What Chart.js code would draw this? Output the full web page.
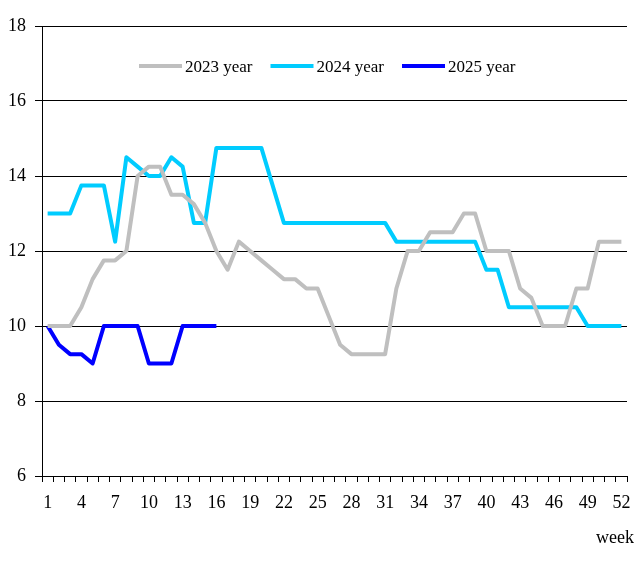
<!DOCTYPE html>
<html><head><meta charset="utf-8">
<script src="https://cdn.jsdelivr.net/npm/chart.js@4"></script>
<style>html,body{margin:0;padding:0;background:#fff;} #wrap{width:644px;height:562px;position:relative;}</style>
</head><body><div id="wrap"><canvas id="c"></canvas></div>
<script>
const weeks = ['1','2','3','4','5','6','7','8','9','10','11','12','13','14','15','16','17','18','19','20','21','22','23','24','25','26','27','28','29','30','31','32','33','34','35','36','37','38','39','40','41','42','43','44','45','46','47','48','49','50','51','52'];
const seriesNames = ['2023 year','2024 year','2025 year'];
const values2023 = [10,10,10,10.5,11.25,11.75,11.75,12,14,14.25,14.25,13.5,13.5,13.25,12.75,12,11.5,12.25,12,11.75,11.5,11.25,11.25,11,11,10.25,9.5,9.25,9.25,9.25,9.25,11,12,12,12.5,12.5,12.5,13,13,12,12,12,11,10.75,10,10,10,11,11,12.25,12.25,12.25];
const values2024 = [13,13,13,13.75,13.75,13.75,12.25,14.5,14.25,14,14,14.5,14.25,12.75,12.75,14.75,14.75,14.75,14.75,14.75,13.75,12.75,12.75,12.75,12.75,12.75,12.75,12.75,12.75,12.75,12.75,12.25,12.25,12.25,12.25,12.25,12.25,12.25,12.25,11.5,11.5,10.5,10.5,10.5,10.5,10.5,10.5,10.5,10,10,10,10];
const values2025 = [10,9.5,9.25,9.25,9,10,10,10,10,9,9,9,10,10,10,10];
const yTicks = [6,8,10,12,14,16,18];
const xAxisTitle = 'week';

const FONT = 'Liberation Serif';

const legendPlugin = {
  id: 'customLegend',
  afterDraw(chart) {
    const ctx = chart.ctx;
    ctx.save();
    ctx.font = '17px "' + FONT + '"';
    ctx.textBaseline = 'alphabetic';
    ctx.textAlign = 'left';
    let x = 139;
    const y = 66;
    chart.data.datasets.forEach(ds => {
      ctx.strokeStyle = ds.borderColor;
      ctx.lineWidth = 4;
      ctx.lineCap = 'butt';
      ctx.beginPath();
      ctx.moveTo(x, y);
      ctx.lineTo(x + 43, y);
      ctx.stroke();
      ctx.fillStyle = '#000';
      ctx.fillText(ds.label, x + 46, y + 6);
      x += 43 + 3 + ctx.measureText(ds.label).width + 18;
    });
    // x axis title
    ctx.font = '18px "' + FONT + '"';
    ctx.textAlign = 'right';
    ctx.fillText(xAxisTitle, 634, 543);
    ctx.restore();
  }
};

new Chart(document.getElementById('c'), {
  type: 'line',
  data: {
    labels: weeks,
    datasets: [
      { label: seriesNames[0], data: values2023, borderColor: '#bfbfbf', borderWidth: 4 },
      { label: seriesNames[1], data: values2024, borderColor: '#00ccff', borderWidth: 4 },
      { label: seriesNames[2], data: values2025, borderColor: '#0000ff', borderWidth: 4 }
    ]
  },
  options: {
    responsive: true,
    maintainAspectRatio: false,
    animation: false,
    devicePixelRatio: 1,
    layout: { padding: { top: 26, right: 17, left: 0, bottom: 0 } },
    elements: {
      point: { radius: 0, hoverRadius: 0 },
      line: { tension: 0, borderJoinStyle: 'round', borderCapStyle: 'butt' }
    },
    plugins: { legend: { display: false }, tooltip: { enabled: false } },
    scales: {
      x: {
        type: 'category',
        offset: true,
        grid: { display: true, offset: true, drawOnChartArea: false, drawTicks: true, tickLength: 6, color: '#000', lineWidth: 1 },
        border: { display: true, color: '#000', width: 1 },
        ticks: {
          autoSkip: false, maxRotation: 0, minRotation: 0, padding: 10,
          color: '#000', font: { family: FONT, size: 18 },
          callback: function(v, i) { return (i % 3 === 0) ? this.getLabelForValue(v) : ''; }
        },
        afterFit: (s) => { s.height = 86; }
      },
      y: {
        min: 6, max: 18,
        afterBuildTicks: (s) => { s.ticks = yTicks.map(v => ({ value: v })); },
        grid: { display: true, drawOnChartArea: true, drawTicks: true, tickLength: 7, color: '#000', lineWidth: 1 },
        border: { display: true, color: '#000', width: 1 },
        ticks: { padding: 9, color: '#000', font: { family: FONT, size: 18 } },
        afterFit: (s) => { s.width = 42; }
      }
    }
  },
  plugins: [legendPlugin]
});
</script>
</body></html>
